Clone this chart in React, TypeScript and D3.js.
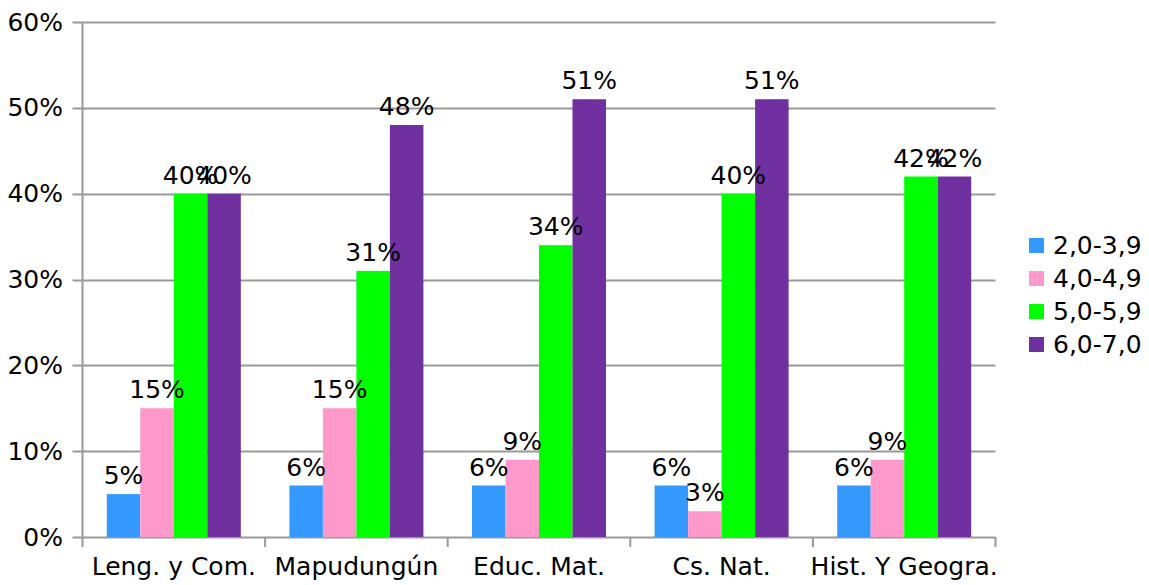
import React from "react";
import * as d3 from "d3";

const categories = ["Leng. y Com.", "Mapudungún", "Educ. Mat.", "Cs. Nat.", "Hist. Y Geogra."];
const seriesNames = ["2,0-3,9", "4,0-4,9", "5,0-5,9", "6,0-7,0"];
const s1 = [5, 6, 6, 6, 6];
const s2 = [15, 15, 9, 3, 9];
const s3 = [40, 31, 34, 40, 42];
const s4 = [40, 48, 51, 51, 42];
const seriesValues = [s1, s2, s3, s4];
const colors = ["#3399FF", "#FF99CC", "#00FF00", "#7030A0"];
const yTicks = [0, 10, 20, 30, 40, 50, 60];

export default function App() {
  const W = 1149, H = 585;
  const left = 82.5, right = 995.5, top = 22, bottom = 537;
  const x = d3.scaleBand<string>().domain(categories).range([left, right]).paddingInner(0).paddingOuter(0);
  const y = d3.scaleLinear().domain([0, 60]).range([bottom, top]);
  const groupW = 134;
  const barW = groupW / 4;
  const font = "DejaVu Sans, sans-serif";
  const grid = "#999999";
  const fs = 25;
  return (
    <svg width={W} height={H} style={{ position: "absolute", left: 0, top: 0 }} fontFamily={font}>
      <rect width={W} height={H} fill="#fff" />
      {yTicks.map((t) => (
        <g key={t}>
          <line x1={left - 10} x2={right} y1={Math.round(y(t)) + 0.5} y2={Math.round(y(t)) + 0.5} stroke={grid} strokeWidth={2} />
          <text x={63} y={y(t) + 8.5} textAnchor="end" fontSize={fs} fill="#000">{t}%</text>
        </g>
      ))}
      <line x1={left} x2={left} y1={top} y2={bottom + 10} stroke={grid} strokeWidth={2} />
      {categories.map((c, i) => (
        <line key={c} x1={(x(c) as number) + x.bandwidth()} x2={(x(c) as number) + x.bandwidth()} y1={bottom} y2={bottom + 10} stroke={grid} strokeWidth={2} />
      ))}
      {seriesValues.map((vals, si) =>
        vals.map((v, ci) => {
          const bx = (x(categories[ci]) as number) + (x.bandwidth() - groupW) / 2 + si * barW;
          return (
            <rect key={`${si}-${ci}`} x={bx} y={y(v)} width={barW} height={bottom - y(v)} fill={colors[si]} />
          );
        })
      )}
      {seriesValues.map((vals, si) =>
        vals.map((v, ci) => {
          const bx = (x(categories[ci]) as number) + (x.bandwidth() - groupW) / 2 + si * barW;
          return (
            <text key={`l${si}-${ci}`} x={bx + barW / 2} y={y(v) - 10} textAnchor="middle" fontSize={fs} fill="#000">{v}%</text>
          );
        })
      )}
      {categories.map((c) => (
        <text key={c} x={(x(c) as number) + x.bandwidth() / 2} y={575} textAnchor="middle" fontSize={fs} fill="#000">{c}</text>
      ))}
      {seriesNames.map((n, i) => (
        <g key={n} transform={`translate(1029, ${238 + i * 33})`}>
          <rect x={0} y={0} width={15} height={15} fill={colors[i]} />
          <text x={24} y={16} fontSize={fs} fill="#000">{n}</text>
        </g>
      ))}
    </svg>
  );
}
